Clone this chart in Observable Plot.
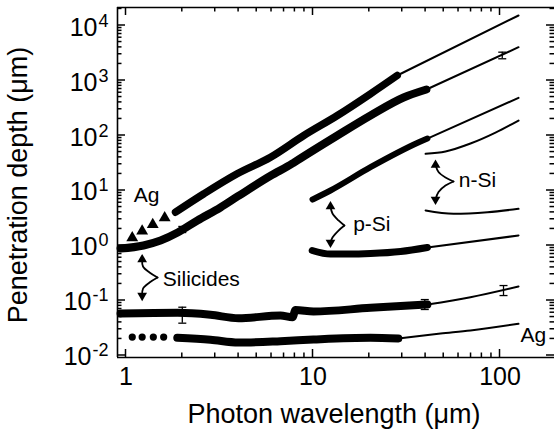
<!DOCTYPE html>
<html><head><meta charset="utf-8">
<script src="https://cdn.jsdelivr.net/npm/d3@7"></script>
<script src="https://cdn.jsdelivr.net/npm/@observablehq/plot@0.6"></script>
<style>
html,body{margin:0;padding:0;background:#fff;}
#chart svg{display:block;}
</style></head><body><div id="chart"></div>
<script>
// ---- data: [wavelength (µm), penetration depth (µm)] ----
const agTriangles   = [[1.08,1.38],[1.22,1.82],[1.39,2.41],[1.61,3.19]];
const agUpperBand   = [[1.84,4.03],[2.61,8.71],[3.93,20.1],[5.93,40.3],[8.93,100],[13.5,231],[20.3,573],[28.2,1233]];
const agUpperFit    = [[28.2,1233],[125.6,15200]];
const silUpperBand  = [[0.935,0.882],[1.24,1.0],[1.53,1.23],[1.89,1.72],[2.41,2.85],[3.20,4.91],[3.95,7.78],[5.93,18.5],[7.77,31.0],[8.16,34.5],[13.5,100],[20.3,231],[30.5,491],[40.4,686]];
const silUpperFit   = [[40.4,686],[125.6,4033]];
const pSiUpperBand  = [[9.94,6.86],[12.4,10],[20.3,26.5],[36.8,75.2],[40.9,88]];
const pSiUpperFit   = [[40.9,88],[125.6,484]];
const nSiUpperFit   = [[40.0,46.4],[51.1,51.2],[69.5,71.5],[94.6,113],[125.6,187]];
const nSiLowerFit   = [[40.0,4.33],[56.4,3.77],[85.7,4.03],[125.6,4.64]];
const pSiLowerBand  = [[9.90,0.811],[12.4,0.70],[15.3,0.70],[20.3,0.715],[29.4,0.778],[40.9,0.92]];
const pSiLowerFit   = [[40.9,0.92],[125.6,1.52]];
const silLowerBand  = [[0.935,0.058],[1.89,0.0597],[2.83,0.055],[4.0,0.0476],[6.70,0.0533],[7.77,0.0497],[8.06,0.067],[10.06,0.063],[20.3,0.0736],[40.9,0.0846]];
const silLowerFit   = [[40.9,0.0846],[69.5,0.115],[125.6,0.18]];
const agLowerDots   = [[1.08,0.0216],[1.22,0.0216],[1.40,0.0216],[1.59,0.0216]];
const agLowerBand   = [[1.88,0.021],[2.83,0.0193],[4.0,0.0172],[6.70,0.0182],[10.06,0.0195],[20.3,0.021],[28.6,0.0204]];
const agLowerFit    = [[28.6,0.0204],[48.1,0.025],[69.5,0.0285],[125.6,0.0377]];

// error bars
const errX  = [2.0, 2.0, 39.6, 104.4, 102.8];
const errLo = [0.0387, 1.72, 0.0686, 0.123, 2483];
const errHi = [0.0755, 2.22, 0.104, 0.187, 3273];

// annotation braces (data coordinates)
const silicideBrace = [[1.22,0.557],[1.233,0.415],[1.336,0.323],[1.474,0.262],[1.336,0.2125],[1.233,0.165],[1.22,0.123]];
const pSiBrace      = [[12.4,5.12],[12.71,3.82],[13.69,2.85],[14.72,2.31],[13.69,1.87],[12.71,1.40],[12.4,1.134]];
const nSiBrace      = [[45.2,29.1],[46.9,21.7],[51.1,17.2],[56.4,14.6],[51.1,12.3],[46.9,9.39],[45.2,6.86]];

// annotation labels
const labelText = ["Ag", "Silicides", "p-Si", "n-Si", "Ag"];
const labelX    = [1.10, 1.574, 16.4, 60.2, 128.8];
const labelY    = [8.18, 0.248, 2.48, 15.2, 0.0231];

// axes
const xMajor = [1, 10, 100];
const yMajor = [1e-2, 1e-1, 1, 10, 100, 1e3, 1e4];
const xTitle = "Photon wavelength (\u03BCm)";
const yTitle = "Penetration depth (\u03BCm)";

// ---- chart ----
const W = 554, H = 429, ML = 117, MR = 0, MT = 7, MB = 72;
const xDomain = [0.9006, 195.6];
const yDomain = [Math.pow(10, -2.0364), Math.pow(10, 4.3273)];
const minor = (lo, hi) => {
  const out = [];
  for (let e = -3; e <= 4; e++) for (let k = 2; k <= 9; k++) {
    const v = k * Math.pow(10, e);
    if (v > lo && v < hi) out.push(v);
  }
  return out;
};
const xMinor = minor(xDomain[0], xDomain[1]);
const yMinor = minor(yDomain[0], yDomain[1]);

const X = d => d[0], Y = d => d[1];
const capSym = w => ({draw(ctx) { ctx.moveTo(-w / 2, 0); ctx.lineTo(w / 2, 0); }});
const band = (data, w) => Plot.line(data, {x: X, y: Y, stroke: "black", strokeWidth: w, strokeLinecap: "round", strokeLinejoin: "round", curve: "monotone-x"});
const fit = data => Plot.line(data, {x: X, y: Y, stroke: "black", strokeWidth: 2, curve: "monotone-x"});
const braceMarks = b => [
  Plot.line(b.slice(0, 4), {x: X, y: Y, curve: "catmull-rom", stroke: "black", strokeWidth: 1.8}),
  Plot.line(b.slice(3), {x: X, y: Y, curve: "catmull-rom", stroke: "black", strokeWidth: 1.8}),
  Plot.dot([b[0]], {x: X, y: Y, symbol: "triangle", r: 3.6, fill: "black", rotate: 0}),
  Plot.dot([b[b.length - 1]], {x: X, y: Y, symbol: "triangle", r: 3.6, fill: "black", rotate: 180})
];
const supChars = {"0":"\u2070","1":"\u00B9","2":"\u00B2","3":"\u00B3","4":"\u2074","-":"\u207B"};
const supFmt = d => "10" + String(Math.round(Math.log10(d))).split("").map(c => supChars[c]).join("");
const errIdx = errX.map((_, i) => i);

const chart = Plot.plot({
  width: W, height: H,
  marginLeft: ML, marginRight: MR, marginTop: MT, marginBottom: MB,
  x: {type: "log", domain: xDomain},
  y: {type: "log", domain: yDomain},
  style: {fontFamily: "'Liberation Sans', Arial, sans-serif", fontSize: "25px", color: "black", background: "white"},
  marks: [
    Plot.axisX(xMajor, {anchor: "bottom", tickSize: 0, tickPadding: 10, tickFormat: d => String(d), label: null, fontSize: 25}),
    Plot.axisY(yMajor, {anchor: "left", tickSize: 0, tickPadding: 9, tickFormat: supFmt, label: null, fontSize: 25, dy: 2}),
    // data
    Plot.dot(agTriangles, {x: X, y: Y, symbol: "triangle", r: 4.4, fill: "black"}),
    band(agUpperBand, 7.5), fit(agUpperFit),
    band(silUpperBand, 8), fit(silUpperFit),
    band(pSiUpperBand, 6), fit(pSiUpperFit),
    fit(nSiUpperFit), fit(nSiLowerFit),
    band(pSiLowerBand, 7), fit(pSiLowerFit),
    band(silLowerBand, 8), fit(silLowerFit),
    Plot.dot(agLowerDots, {x: X, y: Y, r: 3.6, fill: "black"}),
    band(agLowerBand, 8), fit(agLowerFit),
    // error bars
    Plot.ruleX(errIdx, {x: i => errX[i], y1: i => errLo[i], y2: i => errHi[i], stroke: "black", strokeWidth: 1.3}),
    Plot.dot(errIdx, {x: i => errX[i], y: i => errLo[i], symbol: capSym(8), stroke: "black", fill: "none", strokeWidth: 1.3}),
    Plot.dot(errIdx, {x: i => errX[i], y: i => errHi[i], symbol: capSym(8), stroke: "black", fill: "none", strokeWidth: 1.3}),
    // annotations
    ...braceMarks(silicideBrace), ...braceMarks(pSiBrace), ...braceMarks(nSiBrace),
    Plot.text(labelText, {x: (d, i) => labelX[i], y: (d, i) => labelY[i], text: d => d, textAnchor: "start", fontSize: 21, fill: "black"}),
    // frame (left, top, bottom)
    Plot.ruleX([xDomain[0]], {stroke: "black", strokeWidth: 1.6}),
    Plot.ruleY([yDomain[0], yDomain[1]], {stroke: "black", strokeWidth: 1.6})
  ]
});

const NS = "http://www.w3.org/2000/svg";
// inward ticks on all four sides, placed with the chart's own scales
const sx = chart.scale("x"), sy = chart.scale("y");
const L = ML, R = W - MR, T = MT, B = H - MB;
const tg = document.createElementNS(NS, "g");
tg.setAttribute("stroke", "black"); tg.setAttribute("stroke-width", "1.5"); tg.setAttribute("aria-label", "ticks");
const seg = (x1, y1, x2, y2) => {
  const l = document.createElementNS(NS, "line");
  l.setAttribute("x1", x1); l.setAttribute("y1", y1); l.setAttribute("x2", x2); l.setAttribute("y2", y2);
  tg.appendChild(l);
};
yMajor.forEach(v => { const y = sy.apply(v); seg(L, y, L + 8, y); seg(R, y, R - 8, y); });
yMinor.forEach(v => { const y = sy.apply(v); seg(L, y, L + 4.5, y); seg(R, y, R - 4.5, y); });
xMajor.forEach(v => { const x = sx.apply(v); seg(x, B, x, B - 8); seg(x, T, x, T + 8); });
xMinor.forEach(v => { const x = sx.apply(v); seg(x, B, x, B - 4.5); seg(x, T, x, T + 4.5); });
chart.appendChild(tg);

// real superscripts for y tick labels
const unsup = {"\u2070":"0","\u00B9":"1","\u00B2":"2","\u00B3":"3","\u2074":"4","\u207B":"-"};
chart.querySelectorAll('g[aria-label="y-axis tick label"] text').forEach(t => {
  const s = t.textContent;
  const exp = [...s.slice(2)].map(c => unsup[c] ?? c).join("");
  t.textContent = "";
  const a = document.createElementNS(NS, "tspan"); a.textContent = "10"; t.appendChild(a);
  const b = document.createElementNS(NS, "tspan"); b.textContent = exp;
  b.setAttribute("dy", "-9"); b.setAttribute("dx", "1"); b.setAttribute("font-size", "18");
  t.appendChild(b);
});
// axis titles
const xt = document.createElementNS(NS, "text");
xt.setAttribute("x", 334); xt.setAttribute("y", 423);
xt.setAttribute("text-anchor", "middle"); xt.setAttribute("font-size", 27); xt.setAttribute("fill", "black");
xt.textContent = xTitle; chart.appendChild(xt);
const yt = document.createElementNS(NS, "text");
yt.setAttribute("transform", "translate(27,185) rotate(-90)");
yt.setAttribute("text-anchor", "middle"); yt.setAttribute("font-size", 27); yt.setAttribute("fill", "black");
yt.textContent = yTitle; chart.appendChild(yt);

document.getElementById("chart").appendChild(chart);
</script>
</body></html>
